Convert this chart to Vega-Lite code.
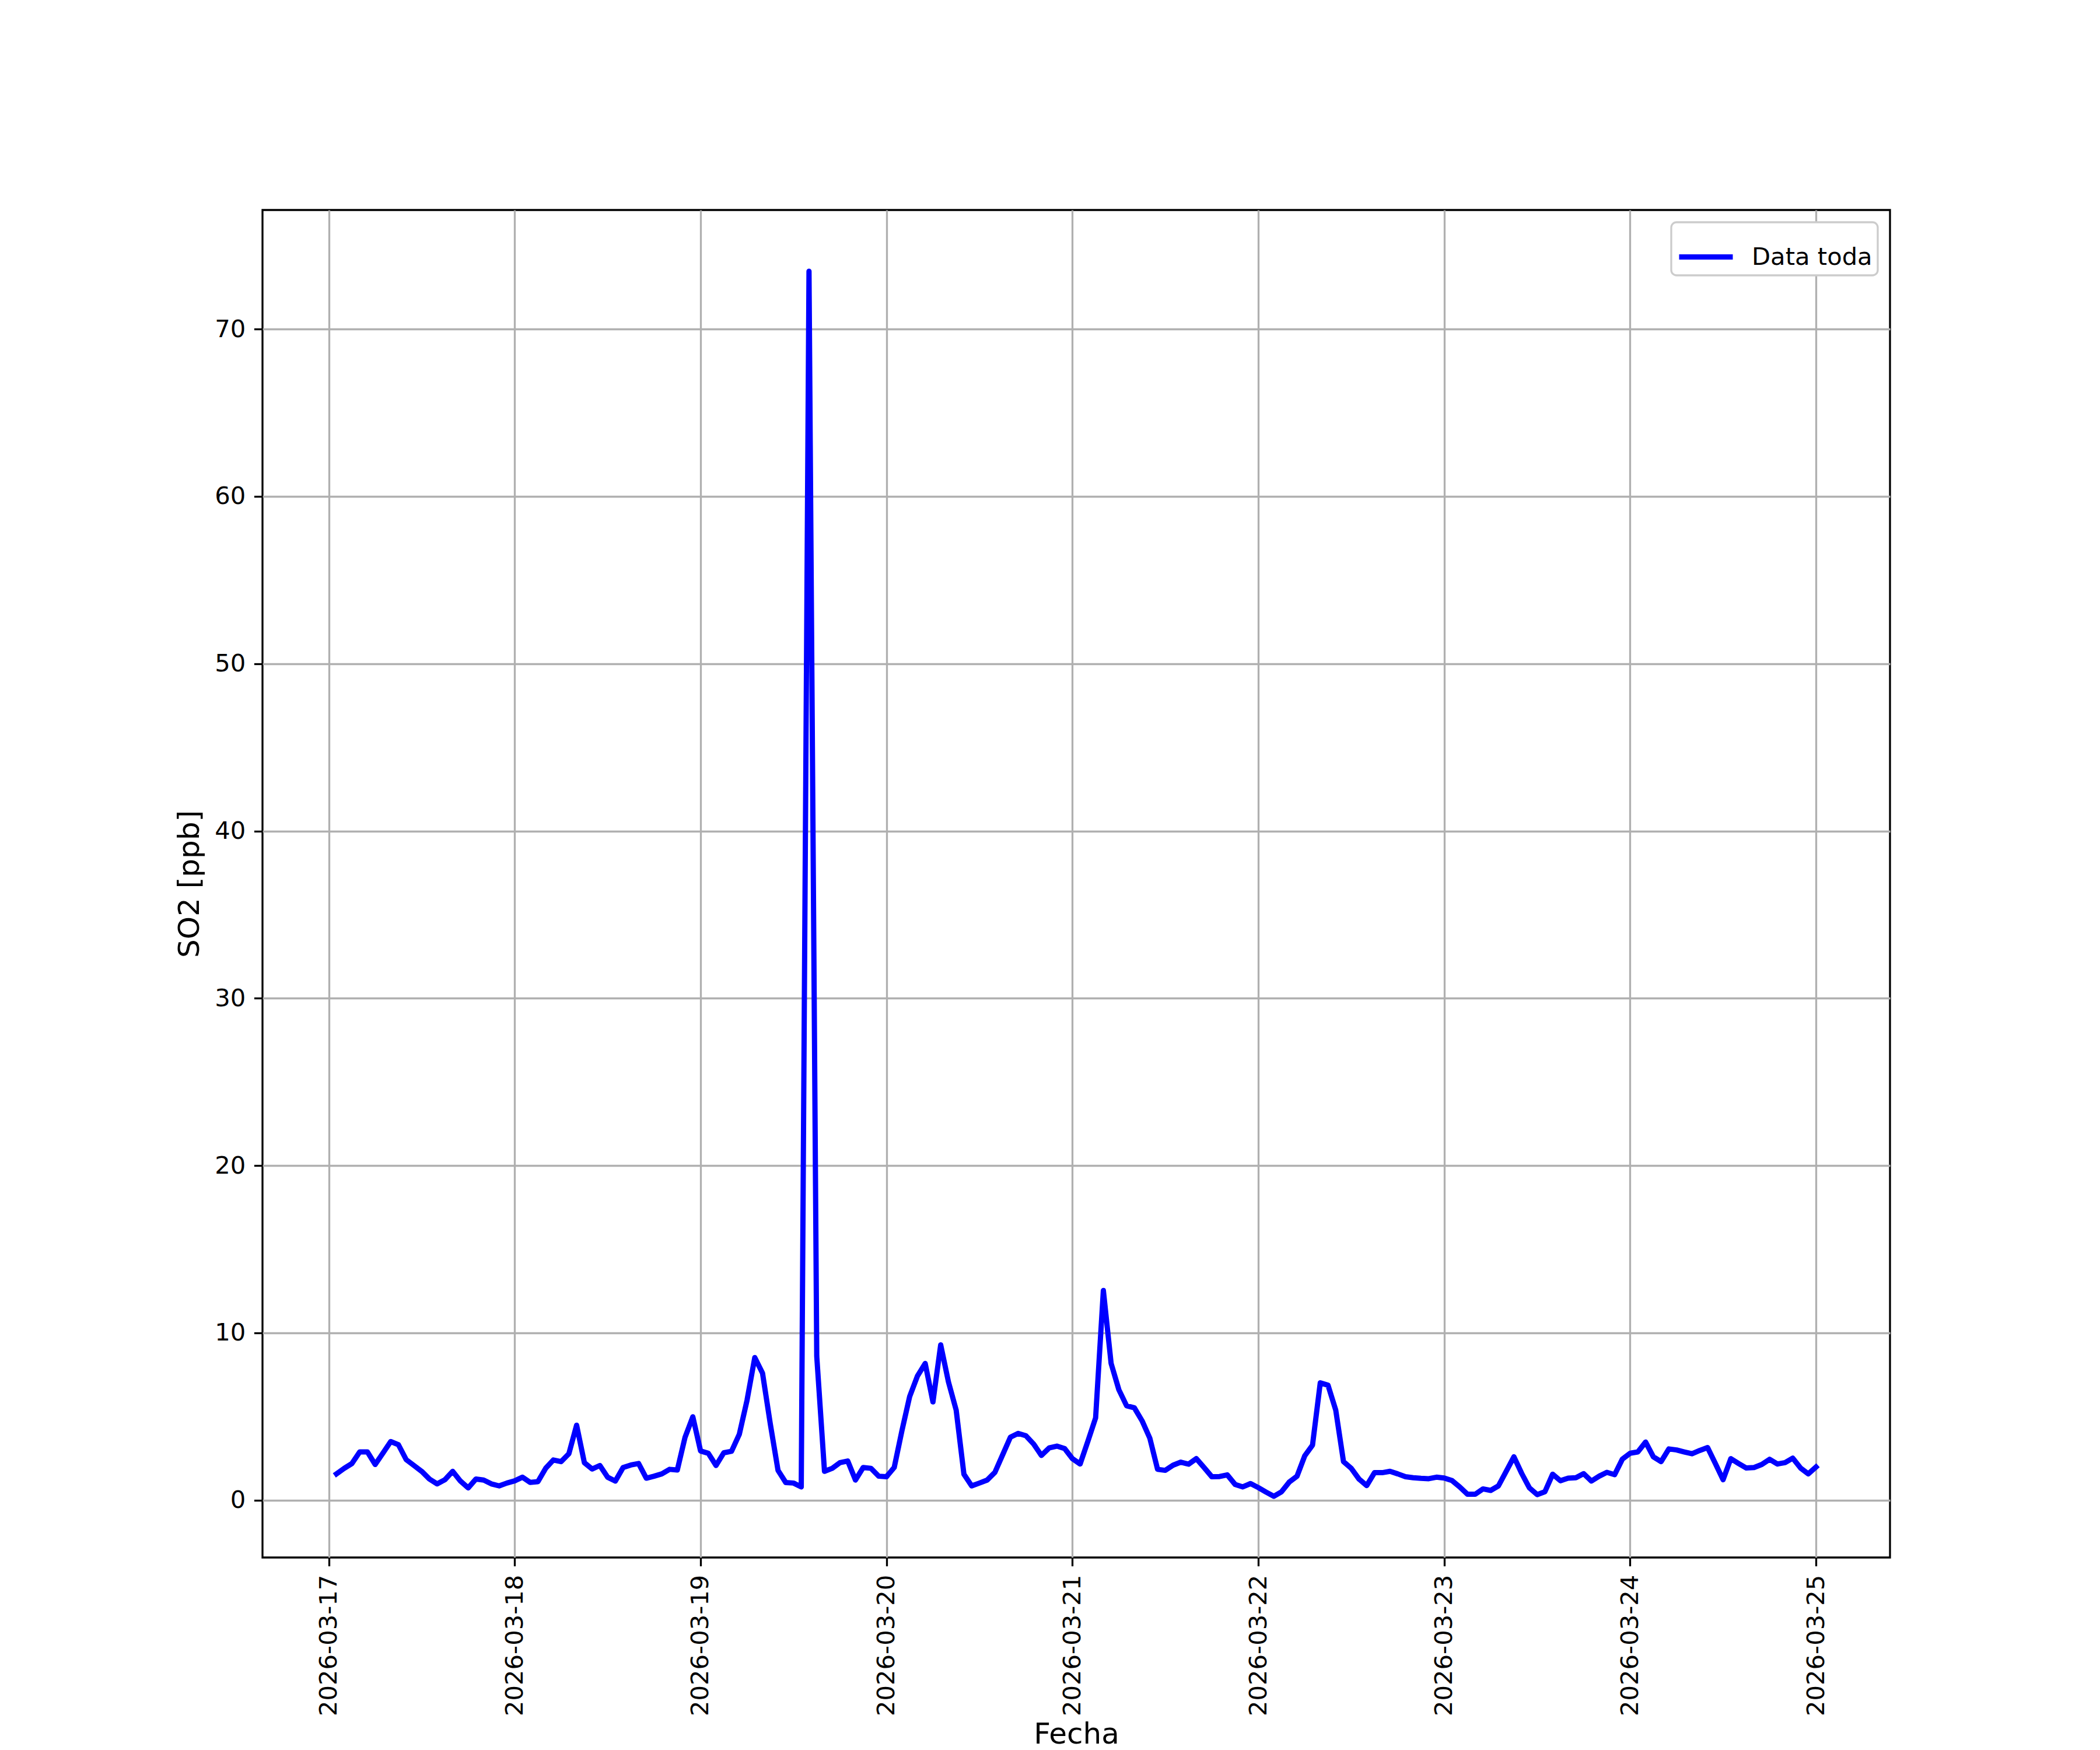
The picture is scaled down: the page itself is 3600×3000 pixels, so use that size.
{
  "$schema": "https://vega.github.io/schema/vega-lite/v6.json",
  "width": 2790,
  "height": 2310,
  "autosize": {"type": "none"},
  "padding": {"left": 450, "top": 360, "right": 360, "bottom": 330},
  "background": "white",
  "data": {"values": [
    {"t":"2026-03-17T01:00","v":1.57},{"t":"2026-03-17T02:00","v":1.9},{"t":"2026-03-17T03:00","v":2.19},{"t":"2026-03-17T04:00","v":2.88},{"t":"2026-03-17T05:00","v":2.88},{"t":"2026-03-17T06:00","v":2.13},{"t":"2026-03-17T07:00","v":2.81},{"t":"2026-03-17T08:00","v":3.5},{"t":"2026-03-17T09:00","v":3.31},{"t":"2026-03-17T10:00","v":2.42},{"t":"2026-03-17T11:00","v":2.07},{"t":"2026-03-17T12:00","v":1.72},{"t":"2026-03-17T13:00","v":1.26},{"t":"2026-03-17T14:00","v":0.97},{"t":"2026-03-17T15:00","v":1.22},{"t":"2026-03-17T16:00","v":1.72},{"t":"2026-03-17T17:00","v":1.14},{"t":"2026-03-17T18:00","v":0.73},{"t":"2026-03-17T19:00","v":1.26},{"t":"2026-03-17T20:00","v":1.2},{"t":"2026-03-17T21:00","v":0.97},{"t":"2026-03-17T22:00","v":0.85},{"t":"2026-03-17T23:00","v":1.02},
    {"t":"2026-03-18T00:00","v":1.15},{"t":"2026-03-18T01:00","v":1.37},{"t":"2026-03-18T02:00","v":1.06},{"t":"2026-03-18T03:00","v":1.1},{"t":"2026-03-18T04:00","v":1.9},{"t":"2026-03-18T05:00","v":2.4},{"t":"2026-03-18T06:00","v":2.3},{"t":"2026-03-18T07:00","v":2.77},{"t":"2026-03-18T08:00","v":4.48},{"t":"2026-03-18T09:00","v":2.24},{"t":"2026-03-18T10:00","v":1.86},{"t":"2026-03-18T11:00","v":2.07},{"t":"2026-03-18T12:00","v":1.37},{"t":"2026-03-18T13:00","v":1.14},{"t":"2026-03-18T14:00","v":1.95},{"t":"2026-03-18T15:00","v":2.1},{"t":"2026-03-18T16:00","v":2.19},{"t":"2026-03-18T17:00","v":1.31},{"t":"2026-03-18T18:00","v":1.43},{"t":"2026-03-18T19:00","v":1.57},{"t":"2026-03-18T20:00","v":1.84},{"t":"2026-03-18T21:00","v":1.8},{"t":"2026-03-18T22:00","v":3.76},{"t":"2026-03-18T23:00","v":4.98},
    {"t":"2026-03-19T00:00","v":2.94},{"t":"2026-03-19T01:00","v":2.8},{"t":"2026-03-19T02:00","v":2.07},{"t":"2026-03-19T03:00","v":2.83},{"t":"2026-03-19T04:00","v":2.92},{"t":"2026-03-19T05:00","v":3.93},{"t":"2026-03-19T06:00","v":5.97},{"t":"2026-03-19T07:00","v":8.52},{"t":"2026-03-19T08:00","v":7.59},{"t":"2026-03-19T09:00","v":4.57},{"t":"2026-03-19T10:00","v":1.78},{"t":"2026-03-19T11:00","v":1.05},{"t":"2026-03-19T12:00","v":1.02},{"t":"2026-03-19T13:00","v":0.79},{"t":"2026-03-19T14:00","v":73.46},{"t":"2026-03-19T15:00","v":8.6},{"t":"2026-03-19T16:00","v":1.72},{"t":"2026-03-19T17:00","v":1.9},{"t":"2026-03-19T18:00","v":2.24},{"t":"2026-03-19T19:00","v":2.34},{"t":"2026-03-19T20:00","v":1.2},{"t":"2026-03-19T21:00","v":1.95},{"t":"2026-03-19T22:00","v":1.9},{"t":"2026-03-19T23:00","v":1.43},
    {"t":"2026-03-20T00:00","v":1.4},{"t":"2026-03-20T01:00","v":1.95},{"t":"2026-03-20T02:00","v":4.16},{"t":"2026-03-20T03:00","v":6.2},{"t":"2026-03-20T04:00","v":7.42},{"t":"2026-03-20T05:00","v":8.17},{"t":"2026-03-20T06:00","v":5.87},{"t":"2026-03-20T07:00","v":9.28},{"t":"2026-03-20T08:00","v":7.07},{"t":"2026-03-20T09:00","v":5.38},{"t":"2026-03-20T10:00","v":1.55},{"t":"2026-03-20T11:00","v":0.85},{"t":"2026-03-20T12:00","v":1.02},{"t":"2026-03-20T13:00","v":1.2},{"t":"2026-03-20T14:00","v":1.66},{"t":"2026-03-20T15:00","v":2.71},{"t":"2026-03-20T16:00","v":3.76},{"t":"2026-03-20T17:00","v":3.99},{"t":"2026-03-20T18:00","v":3.85},{"t":"2026-03-20T19:00","v":3.35},{"t":"2026-03-20T20:00","v":2.67},{"t":"2026-03-20T21:00","v":3.12},{"t":"2026-03-20T22:00","v":3.23},{"t":"2026-03-20T23:00","v":3.08},
    {"t":"2026-03-21T00:00","v":2.48},{"t":"2026-03-21T01:00","v":2.16},{"t":"2026-03-21T02:00","v":3.52},{"t":"2026-03-21T03:00","v":4.92},{"t":"2026-03-21T04:00","v":12.53},{"t":"2026-03-21T05:00","v":8.17},{"t":"2026-03-21T06:00","v":6.6},{"t":"2026-03-21T07:00","v":5.64},{"t":"2026-03-21T08:00","v":5.52},{"t":"2026-03-21T09:00","v":4.74},{"t":"2026-03-21T10:00","v":3.7},{"t":"2026-03-21T11:00","v":1.84},{"t":"2026-03-21T12:00","v":1.78},{"t":"2026-03-21T13:00","v":2.09},{"t":"2026-03-21T14:00","v":2.27},{"t":"2026-03-21T15:00","v":2.15},{"t":"2026-03-21T16:00","v":2.48},{"t":"2026-03-21T17:00","v":1.95},{"t":"2026-03-21T18:00","v":1.4},{"t":"2026-03-21T19:00","v":1.41},{"t":"2026-03-21T20:00","v":1.51},{"t":"2026-03-21T21:00","v":0.94},{"t":"2026-03-21T22:00","v":0.79},{"t":"2026-03-21T23:00","v":0.99},
    {"t":"2026-03-22T00:00","v":0.75},{"t":"2026-03-22T01:00","v":0.48},{"t":"2026-03-22T02:00","v":0.23},{"t":"2026-03-22T03:00","v":0.5},{"t":"2026-03-22T04:00","v":1.08},{"t":"2026-03-22T05:00","v":1.43},{"t":"2026-03-22T06:00","v":2.65},{"t":"2026-03-22T07:00","v":3.29},{"t":"2026-03-22T08:00","v":7.01},{"t":"2026-03-22T09:00","v":6.87},{"t":"2026-03-22T10:00","v":5.38},{"t":"2026-03-22T11:00","v":2.3},{"t":"2026-03-22T12:00","v":1.9},{"t":"2026-03-22T13:00","v":1.26},{"t":"2026-03-22T14:00","v":0.87},{"t":"2026-03-22T15:00","v":1.64},{"t":"2026-03-22T16:00","v":1.64},{"t":"2026-03-22T17:00","v":1.72},{"t":"2026-03-22T18:00","v":1.57},{"t":"2026-03-22T19:00","v":1.4},{"t":"2026-03-22T20:00","v":1.34},{"t":"2026-03-22T21:00","v":1.3},{"t":"2026-03-22T22:00","v":1.28},{"t":"2026-03-22T23:00","v":1.37},
    {"t":"2026-03-23T00:00","v":1.32},{"t":"2026-03-23T01:00","v":1.17},{"t":"2026-03-23T02:00","v":0.79},{"t":"2026-03-23T03:00","v":0.35},{"t":"2026-03-23T04:00","v":0.35},{"t":"2026-03-23T05:00","v":0.67},{"t":"2026-03-23T06:00","v":0.58},{"t":"2026-03-23T07:00","v":0.85},{"t":"2026-03-23T08:00","v":1.72},{"t":"2026-03-23T09:00","v":2.59},{"t":"2026-03-23T10:00","v":1.6},{"t":"2026-03-23T11:00","v":0.73},{"t":"2026-03-23T12:00","v":0.33},{"t":"2026-03-23T13:00","v":0.5},{"t":"2026-03-23T14:00","v":1.55},{"t":"2026-03-23T15:00","v":1.16},{"t":"2026-03-23T16:00","v":1.31},{"t":"2026-03-23T17:00","v":1.34},{"t":"2026-03-23T18:00","v":1.58},{"t":"2026-03-23T19:00","v":1.14},{"t":"2026-03-23T20:00","v":1.43},{"t":"2026-03-23T21:00","v":1.66},{"t":"2026-03-23T22:00","v":1.52},{"t":"2026-03-23T23:00","v":2.45},
    {"t":"2026-03-24T00:00","v":2.8},{"t":"2026-03-24T01:00","v":2.88},{"t":"2026-03-24T02:00","v":3.47},{"t":"2026-03-24T03:00","v":2.59},{"t":"2026-03-24T04:00","v":2.3},{"t":"2026-03-24T05:00","v":3.06},{"t":"2026-03-24T06:00","v":3.0},{"t":"2026-03-24T07:00","v":2.88},{"t":"2026-03-24T08:00","v":2.77},{"t":"2026-03-24T09:00","v":2.97},{"t":"2026-03-24T10:00","v":3.14},{"t":"2026-03-24T11:00","v":2.19},{"t":"2026-03-24T12:00","v":1.22},{"t":"2026-03-24T13:00","v":2.48},{"t":"2026-03-24T14:00","v":2.19},{"t":"2026-03-24T15:00","v":1.92},{"t":"2026-03-24T16:00","v":1.95},{"t":"2026-03-24T17:00","v":2.13},{"t":"2026-03-24T18:00","v":2.44},{"t":"2026-03-24T19:00","v":2.16},{"t":"2026-03-24T20:00","v":2.24},{"t":"2026-03-24T21:00","v":2.51},{"t":"2026-03-24T22:00","v":1.92},{"t":"2026-03-24T23:00","v":1.57},
    {"t":"2026-03-25T00:00","v":1.98}
  ]},
  "mark": {"type": "line", "strokeWidth": 9, "strokeJoin": "round", "strokeCap": "square", "clip": true},
  "encoding": {
    "x": {
      "field": "t", "type": "temporal", "title": "Fecha",
      "scale": {"domain": [{"year": 2026, "month": 3, "date": 16, "hours": 15, "minutes": 27}, {"year": 2026, "month": 3, "date": 25, "hours": 9, "minutes": 33}], "nice": false},
      "axis": {"format": "%Y-%m-%d", "labelAngle": 270, "tickCount": {"interval": "day", "step": 1}, "labelFlush": false, "labelOverlap": false, "labelLimit": 0, "titleY": 318, "titleBaseline": "alphabetic"}
    },
    "y": {
      "field": "v", "type": "quantitative", "title": "SO2 [ppb]",
      "scale": {"domain": [-3.43, 77.12], "nice": false, "zero": false},
      "axis": {"values": [0, 10, 20, 30, 40, 50, 60, 70], "format": "d", "labelLimit": 0}
    },
    "color": {
      "datum": "Data toda",
      "scale": {"range": ["#0000ff"]},
      "legend": {"title": null, "orient": "top-right", "offset": 21, "labelLimit": 0}
    }
  },
  "config": {
    "font": "DejaVu Sans",
    "view": {"stroke": "black", "strokeWidth": 3.3},
    "axis": {
      "domain": false,
      "grid": true, "gridColor": "#b0b0b0", "gridWidth": 3.3, "gridOpacity": 1,
      "ticks": true, "tickColor": "black", "tickWidth": 3.3, "tickSize": 14.6,
      "labelFont": "DejaVu Sans", "labelFontSize": 41.7, "labelColor": "black", "labelPadding": 14.6,
      "titleFont": "DejaVu Sans", "titleFontSize": 50, "titleFontWeight": "normal", "titleColor": "black", "titlePadding": 17
    },
    "legend": {
      "symbolType": "stroke", "symbolSize": 8464, "symbolStrokeWidth": 9,
      "labelFont": "DejaVu Sans", "labelFontSize": 41.7, "labelColor": "black", "labelOffset": 28, "labelLimit": 0,
      "fillColor": "white", "strokeColor": "#cccccc", "strokeWidth": 3.3, "cornerRadius": 9, "padding": 9
    }
  }
}
